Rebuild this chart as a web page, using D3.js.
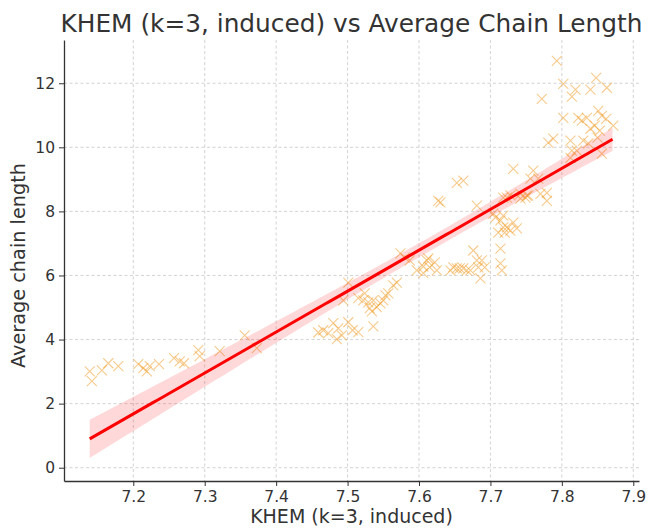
<!DOCTYPE html>
<html><head><meta charset="utf-8">
<script src="https://cdn.jsdelivr.net/npm/d3@7"></script>
<style>body{margin:0;background:#fff}svg{display:block}text{font-family:"DejaVu Sans",sans-serif}</style>
</head><body><svg id="c" width="649" height="529"></svg>
<script>
const khem = [7.139,7.142,7.156,7.165,7.179,7.207,7.214,7.219,7.223,7.236,7.257,7.265,7.271,7.291,7.293,7.321,7.356,7.373,
7.459,7.466,7.473,7.480,7.487,7.485,7.501,7.507,7.515,7.536,7.492,
7.501,7.494,7.515,7.522,7.524,7.529,7.531,7.534,7.536,7.546,7.553,7.557,7.541,7.564,7.569,7.550,
7.574,7.580,7.587,7.597,7.606,7.611,7.615,7.625,7.613,7.622,7.606,
7.644,7.648,7.653,7.657,7.662,7.667,7.672,7.676,7.681,7.683,7.686,7.692,7.714,7.714,7.716,7.688,
7.627,7.630,7.653,7.662,7.681,
7.704,7.707,7.714,7.718,7.723,7.728,7.732,7.737,7.720,7.711,7.718,7.728,7.723,7.718,7.742,7.749,7.751,7.742,7.753,7.756,7.760,7.732,7.767,7.770,7.779,7.779,
7.793,7.802,7.772,7.819,7.814,7.840,7.848,7.863,7.802,7.823,7.828,7.835,7.851,7.856,7.862,7.872,7.846,7.840,7.853,7.788,7.781,7.812,7.814,7.830,7.837,7.850,7.856,7.812,7.821];
const chainLen = [3.01,2.70,3.04,3.26,3.17,3.23,3.11,3.01,3.17,3.23,3.42,3.32,3.26,3.67,3.48,3.64,4.13,3.73,
4.22,4.29,4.20,4.51,4.35,4.01,4.54,4.29,4.23,4.41,4.13,
5.78,5.22,5.29,5.22,5.44,5.16,4.98,4.88,5.22,5.13,5.38,5.44,5.01,5.69,5.78,5.22,
6.69,6.56,6.47,6.16,6.07,6.47,6.25,6.16,6.53,6.41,6.28,
6.16,6.25,6.22,6.22,6.22,6.16,6.16,6.78,6.47,6.25,5.91,6.25,6.84,6.38,6.16,6.47,
8.33,8.28,8.89,8.96,8.18,
7.93,7.81,7.72,7.50,7.50,7.40,7.65,7.47,7.34,7.34,7.87,8.50,8.43,8.43,8.55,8.43,8.49,8.40,8.49,9.02,9.27,9.33,9.02,8.55,8.58,8.33,
12.70,11.98,11.51,11.80,11.58,11.80,12.17,11.86,10.92,10.92,10.83,10.92,11.14,10.98,10.89,10.68,10.68,10.58,10.52,10.27,10.15,10.21,9.90,10.21,10.12,10.30,9.80,9.67,9.90];
// fitted regression line end points
const fitX = [7.139, 7.871];
const fitY = [0.90, 10.25];
const ciHalfLeft = 0.60; // half-width of confidence band at left end
const xTicks = [7.2,7.3,7.4,7.5,7.6,7.7,7.8,7.9];
const yTicks = [0,2,4,6,8,10,12];
const titleText = "KHEM (k=3, induced) vs Average Chain Length";
const xLabel = "KHEM (k=3, induced)";
const yLabel = "Average chain length";

const W=649,H=529,m={l:64,r:10,t:40,b:48};
const svg=d3.select("#c");
const x=d3.scaleLinear().domain([7.103,7.908]).range([m.l,W-m.r]);
const y=d3.scaleLinear().domain([-0.415,13.35]).range([H-m.b,m.t]);

// grid
const g=svg.append("g");
g.selectAll(".gx").data(xTicks).join("line").attr("x1",d=>x(d)).attr("x2",d=>x(d)).attr("y1",m.t).attr("y2",H-m.b)
 .attr("stroke","#c8c8c8").attr("stroke-width",0.8).attr("stroke-dasharray","3,2.5");
g.selectAll(".gy").data(yTicks).join("line").attr("y1",d=>y(d)).attr("y2",d=>y(d)).attr("x1",m.l).attr("x2",W-m.r)
 .attr("stroke","#c8c8c8").attr("stroke-width",0.8).attr("stroke-dasharray","3,2.5");

// points
const pts=khem.map((v,i)=>[v,chainLen[i]]);
const s=5;
const pg=svg.append("g").attr("stroke","#f0a030").attr("stroke-opacity",0.55).attr("stroke-width",1.1).attr("fill","none");
pg.selectAll("path").data(pts).join("path")
 .attr("d",d=>{const cx=x(d[0]),cy=y(d[1]);return `M${cx-s},${cy-s}L${cx+s},${cy+s}M${cx-s},${cy+s}L${cx+s},${cy-s}`;});

// regression line + confidence band (shape from the standard OLS formula)
const n=pts.length, mx=d3.mean(khem);
let sxx=0; khem.forEach(a=>{sxx+=(a-mx)**2;});
const slope=(fitY[1]-fitY[0])/(fitX[1]-fitX[0]), inter=fitY[0]-slope*fitX[0];
const shape=v=>Math.sqrt(1/n+(v-mx)**2/sxx);
const k=ciHalfLeft/shape(fitX[0]);
const grid=d3.range(0,101).map(i=>fitX[0]+(fitX[1]-fitX[0])*i/100);
const band=grid.map(v=>{const yh=inter+slope*v;const e=k*shape(v);return {v,lo:yh-e,hi:yh+e,yh};});
svg.append("path").datum(band).attr("fill","#ff0000").attr("fill-opacity",0.15)
 .attr("d",d3.area().x(d=>x(d.v)).y0(d=>y(d.lo)).y1(d=>y(d.hi)));
svg.append("path").datum(band).attr("fill","none").attr("stroke","#ff0000").attr("stroke-width",3)
 .attr("d",d3.line().x(d=>x(d.v)).y(d=>y(d.yh)));

// axes
const ax=svg.append("g").attr("transform",`translate(0,${H-m.b})`)
 .call(d3.axisBottom(x).tickValues(xTicks).tickFormat(d3.format(".1f")).tickSize(5).tickPadding(5).tickSizeOuter(0));
const ay=svg.append("g").attr("transform",`translate(${m.l},0)`)
 .call(d3.axisLeft(y).tickValues(yTicks).tickSize(5).tickPadding(4).tickSizeOuter(0));
[ax,ay].forEach(a=>{a.select(".domain").attr("stroke","#333").attr("stroke-width",1.3);
 a.selectAll(".tick line").attr("stroke","#333").attr("stroke-width",1);
 a.selectAll(".tick text").attr("fill","#333").style("font-size","15.5px").style("font-family","DejaVu Sans");});

svg.append("text").attr("x",(m.l+W-m.r)/2).attr("y",32).attr("text-anchor","middle").attr("fill","#333")
 .style("font-size","24.8px").text(titleText);
svg.append("text").attr("x",(m.l+W-m.r)/2).attr("y",523).attr("text-anchor","middle").attr("fill","#333")
 .style("font-size","19px").text(xLabel);
svg.append("text").attr("transform",`translate(25,${(m.t+H-m.b)/2+5}) rotate(-90)`).attr("text-anchor","middle").attr("fill","#333")
 .style("font-size","19.3px").text(yLabel);
</script></body></html>
